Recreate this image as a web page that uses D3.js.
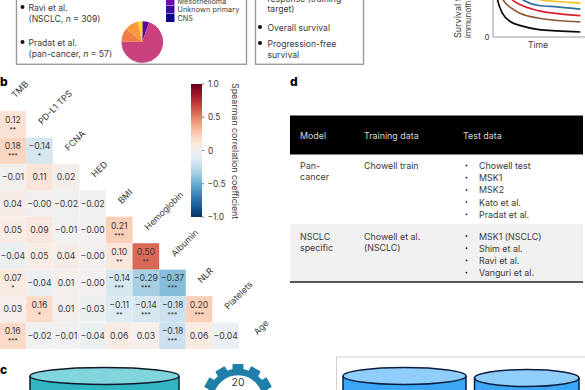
<!DOCTYPE html>
<html><head><meta charset="utf-8">
<script src="https://cdn.jsdelivr.net/npm/d3@7/dist/d3.min.js"></script>
<style>
html,body{margin:0;padding:0;background:#fff}
svg{display:block;font-family:Inter,"Open Sans",sans-serif}
</style></head><body><svg id="c" width="585" height="390"></svg>
<script>
// Heatmap
const variables = ["TMB","PD-L1 TPS","FCNA","HED","BMI","Hemoglobin","Albumin","NLR","Platelets","Age"];
const correlations = [
 [0.12],
 [0.18,-0.14],
 [-0.01,0.11,0.02],
 [0.04,-0.001,-0.02,-0.02],
 [0.05,0.09,-0.01,-0.001,0.21],
 [-0.04,0.05,0.04,-0.001,0.10,0.50],
 [0.07,-0.04,0.01,-0.001,-0.14,-0.29,-0.37],
 [0.03,0.16,0.01,-0.03,-0.11,-0.14,-0.18,0.20],
 [0.16,-0.02,-0.01,-0.04,0.06,0.03,-0.18,0.06,-0.04]
];
const stars = [
 ["**"],
 ["***","*"],
 ["","",""],
 ["","","",""],
 ["","","","","***"],
 ["","","","","**","**"],
 ["*","","","","***","***","***"],
 ["","*","","","**","***","***","***"],
 ["***","","","","","","***","",""]
];
const colorbarTicks = [1,0.5,0,-0.5,-1];
// Pie
const pieValues = [3,40,6,6,2];
const pieColors = ["#5a06a4","#c9417e","#ef7d45","#f79a3c","#fbd535"];
const legendLabels = ["Mesothelioma","Unknown primary","CNS"];
const legendColors = ["#6a0bab","#3c0a9c","#0d0887"];
// Survival
const timePoints = [0,0.05,0.1,0.2,0.3,0.5,0.7,0.95];
const survivalSeries = [
 [1,1,1,1,0.76,0.56,0.53,0.507],
 [1,1,0.97,0.76,0.58,0.47,0.45,0.415],
 [1,0.95,0.82,0.57,0.48,0.39,0.35,0.32],
 [1,0.85,0.58,0.43,0.35,0.28,0.246,0.224],
 [1,0.55,0.36,0.22,0.17,0.11,0.09,0.075]
];
const survivalColors = ["#f5c024","#2f6f9f","#dc1f2e","#8c5a36","#0a0a0a"];
// Table
const tableHeader = ["Model","Training data","Test data"];
const tableRows = [
 {model:["Pan-","cancer"],train:["Chowell train"],test:["Chowell test","MSK1","MSK2","Kato et al.","Pradat et al."]},
 {model:["NSCLC","specific"],train:["Chowell et al.","(NSCLC)"],test:["MSK1 (NSCLC)","Shim et al.","Ravi et al.","Vanguri et al."]}
];
const gearTeeth = d3.range(12);

const svg = d3.select("#c");
const ink = "#3a3a3a";
function txt(g,x,y,s,o={}){
  const t=g.append("text").attr("x",x).attr("y",y).attr("fill",o.fill||ink)
   .attr("font-size",o.size||8).attr("dominant-baseline","central")
   .attr("text-anchor",o.anchor||"start").text(s);
  if(o.weight)t.attr("font-weight",o.weight);
  if(o.spacing)t.attr("letter-spacing",o.spacing);
  return t;
}
function rich(g,x,y,parts,size){
  const t=g.append("text").attr("x",x).attr("y",y).attr("fill",ink).attr("font-size",size).attr("dominant-baseline","central");
  parts.forEach(p=>{const s=t.append("tspan").text(p[0]); if(p[1]) s.attr("font-style","italic");});
}
// Panel letters
[["b",0,81],["c",0,369],["d",290,81]].forEach(d=>txt(svg,d[1],d[2],d[0],{size:12,weight:800,fill:"#000"}));

// Top boxes
const box=(x,w,b)=>svg.append("rect").attr("x",x).attr("y",b-120).attr("width",w).attr("height",120).attr("fill","none").attr("stroke","#9a9a9a").attr("stroke-width",1.4);
box(16.5,230,64.3); box(255.5,108,64.3);
const dot=(x,y)=>svg.append("circle").attr("cx",x).attr("cy",y).attr("r",2).attr("fill","#111");
dot(22.5,7); dot(22.5,42); dot(260,27); dot(260,43);
const tf=8.6;
txt(svg,28.5,8,"Ravi et al.",{size:tf});
rich(svg,28.5,18.5,[["(NSCLC, "],["n",1],[" = 309)"]],tf);
txt(svg,28.5,43,"Pradat et al.",{size:tf});
rich(svg,28.5,53.5,[["(pan-cancer, "],["n",1],[" = 57)"]],tf);
txt(svg,267.5,-1,"response (training",{size:tf});
txt(svg,267.5,9,"target)",{size:tf});
txt(svg,267.5,27.5,"Overall survival",{size:tf});
txt(svg,267.5,44,"Progression-free",{size:tf});
txt(svg,267.5,55,"survival",{size:tf});

// Pie
const pieG=svg.append("g").attr("transform","translate(142.3,42)");
const arc=d3.arc().innerRadius(0).outerRadius(20.8);
pieG.selectAll("path").data(d3.pie().sort(null)(pieValues)).join("path").attr("d",arc).attr("fill",(d,i)=>pieColors[i]);
legendLabels.forEach((l,i)=>{
  const y=1+i*8.5;
  svg.append("rect").attr("x",166).attr("y",y-4).attr("width",8.5).attr("height",8).attr("fill",legendColors[i]);
  txt(svg,177.5,y,l,{size:7.2,spacing:0.1});
});

// Survival
const sx=d3.scaleLinear().domain([0,1]).range([493,585]);
const sy=d3.scaleLinear().domain([0,1]).range([37,-30]);
const sl=d3.line().x((d,i)=>sx(timePoints[i])).y(d=>sy(d)).curve(d3.curveMonotoneX);
svg.selectAll(".surv").data(survivalSeries).join("path").attr("class","surv").attr("d",sl)
  .attr("fill","none").attr("stroke",(d,i)=>survivalColors[i]).attr("stroke-width",1.7);
svg.append("path").attr("d",`M${sx(0)},0V${sy(0)}H585`).attr("fill","none").attr("stroke","#9a9a9a").attr("stroke-width",1);
txt(svg,487,37,"0",{size:8,anchor:"middle"});
txt(svg,538,45,"Time",{size:8.6,anchor:"middle"});
txt(svg,0,0,"Survival from",{size:9,anchor:"start"}).attr("transform","translate(457,38) rotate(-90)");
txt(svg,0,0,"immunotherapy",{size:8,anchor:"start"}).attr("transform","translate(468,38) rotate(-90)");

// Heatmap
const x=d3.scaleBand().domain(d3.range(9)).range([-0.5,239]);
const y=d3.scaleBand().domain(d3.range(9)).range([111,349]);
const rdbu=v=>d3.interpolateRdBu(0.5-v/2);
const cellColor=v=>rdbu(Math.max(-1,Math.min(1,v*1.15)));
const heat=svg.append("g");
const fmt=v=>{const s=Math.abs(v).toFixed(2);return (v<0?"\u2212":"")+s;};
correlations.forEach((row,r)=>row.forEach((v,c)=>{
  heat.append("rect").attr("x",x(c)).attr("y",y(r)).attr("width",x.bandwidth()).attr("height",y.bandwidth()).attr("fill",cellColor(v));
  const cx=x(c)+x.bandwidth()/2, cy=y(r)+y.bandwidth()/2, st=stars[r][c];
  txt(heat,cx,st?cy-4.5:cy,fmt(v),{size:8.7,anchor:"middle"});
  if(st) txt(heat,cx,cy+5.5,st,{size:6.5,anchor:"middle"});
}));
variables.forEach((l,i)=>{
  const last=i===9;
  const cx=last?255:x(i)+x.bandwidth()/2;
  const py=last?333:y(i)-15;
  txt(svg,0,0,l,{size:8.8}).attr("transform",`translate(${cx},${py}) rotate(-45)`);
});

// Colorbar
const cy=d3.scaleLinear().domain([1,-1]).range([84,217]);
const defs=svg.append("defs");
const grad=defs.append("linearGradient").attr("id","cb").attr("x1",0).attr("x2",0).attr("y1",0).attr("y2",1);
d3.range(0,1.001,0.05).forEach(t=>grad.append("stop").attr("offset",t).attr("stop-color",d3.interpolateRdBu(t)));
svg.append("rect").attr("x",191).attr("y",84).attr("width",11).attr("height",133).attr("fill","url(#cb)");
const cbAxis=svg.append("g").attr("transform","translate(202,0)");
colorbarTicks.forEach(t=>{
  cbAxis.append("line").attr("x1",0).attr("x2",2).attr("y1",cy(t)).attr("y2",cy(t)).attr("stroke","#777");
  txt(cbAxis,t<0?5.5:6,cy(t),t===0?"0":(t<0?"\u2212":"")+Math.abs(t).toFixed(1),{size:8.4});
});
txt(svg,0,0,"Spearman correlation coefficient",{size:8.8}).attr("transform","translate(235,83) rotate(90)");

// Table
svg.append("rect").attr("x",290).attr("y",115.5).attr("width",293).attr("height",39).attr("fill","#000");
svg.append("rect").attr("x",290).attr("y",224).attr("width",293).attr("height",58).attr("fill","#f1f1f1");
svg.append("line").attr("x1",290).attr("x2",583).attr("y1",282).attr("y2",282).attr("stroke","#222").attr("stroke-width",1.3);
const colX=[300,364,463,479];
const tbf=8.9;
tableHeader.forEach((h,i)=>txt(svg,colX[i],135.5,h,{size:tbf,fill:"#d8d8d8"}));
[{m:165.5,t:165.5,lh:11,tl:12.2},{m:236,t:236,lh:11,tl:12.2}].forEach((p,i)=>{
  const r=tableRows[i];
  r.model.forEach((s,k)=>txt(svg,colX[0],p.m+k*p.lh,s,{size:tbf}));
  r.train.forEach((s,k)=>txt(svg,colX[1],p.m+k*p.lh,s,{size:tbf}));
  r.test.forEach((s,k)=>{
    svg.append("circle").attr("cx",466.5).attr("cy",p.t+k*p.tl).attr("r",0.9).attr("fill","#222");
    txt(svg,colX[3],p.t+k*p.tl,s,{size:tbf});
  });
});

// Cylinders
function cyl(x0,x1,top,bot,body,lid,stroke){
  const cx=(x0+x1)/2,rx=(x1-x0)/2,ry=(bot-top)/2,cyy=(top+bot)/2;
  svg.append("path").attr("d",`M${x0},${cyy}V400H${x1}V${cyy}`).attr("fill",body).attr("stroke",stroke).attr("stroke-width",1.5);
  svg.append("ellipse").attr("cx",cx).attr("cy",cyy).attr("rx",rx).attr("ry",ry).attr("fill",lid).attr("stroke",stroke).attr("stroke-width",1.5);
}
cyl(30,179,367.5,384.5,"#2fb6c1","#80d5dc","#0c1a2a");
svg.append("rect").attr("x",336.5).attr("y",357).attr("width",260).attr("height",50).attr("fill","none").attr("stroke","#cfcfcf").attr("stroke-width",1);
cyl(343,466,367.5,384.5,"#3aa6f5","#8fcdfb","#0b1c3c");
cyl(474.5,579,369.5,386.5,"#3aa6f5","#8fcdfb","#0b1c3c");

// Gear
const gear=svg.append("g").attr("transform","translate(238,400)");
gear.append("circle").attr("r",28).attr("fill","none").attr("stroke","#1f7fa8").attr("stroke-width",6.5);
gear.selectAll("rect").data(gearTeeth).join("rect")
  .attr("x",-5.5).attr("y",-36).attr("width",11).attr("height",8).attr("rx",1)
  .attr("fill","#1f7fa8").attr("transform",d=>`rotate(${d*30})`);
txt(svg,238,382,"20",{size:10.5,anchor:"middle"});
</script></body></html>
